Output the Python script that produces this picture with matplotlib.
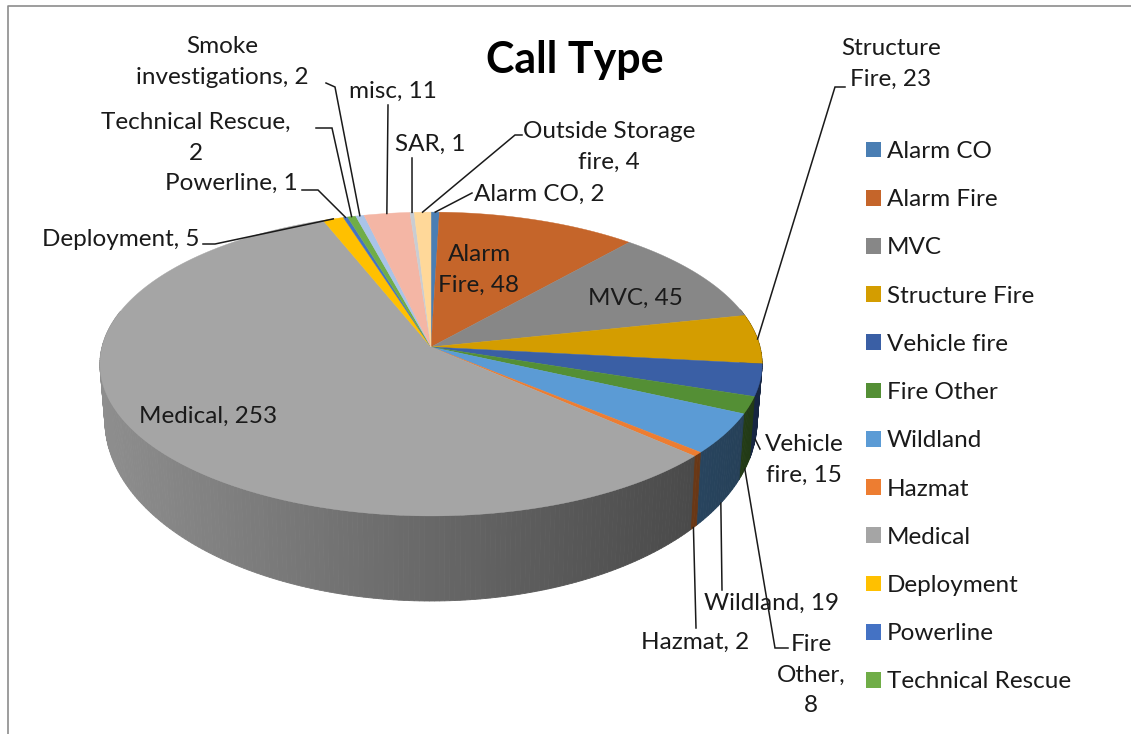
import numpy as np
import matplotlib
matplotlib.use("Agg")
import matplotlib.pyplot as plt
from matplotlib.patches import Patch

plt.rcParams['font.family'] = ['Lato', 'DejaVu Sans']

categories = ["Alarm CO", "Alarm Fire", "MVC", "Structure Fire", "Vehicle fire", "Fire Other",
              "Wildland", "Hazmat", "Medical", "Deployment", "Powerline", "Technical Rescue",
              "Smoke investigations", "misc", "SAR", "Outside Storage fire"]
values = [2, 48, 45, 23, 15, 8, 19, 2, 253, 5, 1, 2, 2, 11, 1, 4]
colors = ["#4A7EB3", "#C5652A", "#878787", "#D49D00", "#3A5FA5", "#548F35", "#5B9BD5", "#ED7D31",
          "#A5A5A5", "#FFC000", "#4472C4", "#70AD47", "#A9C4E8", "#F4B6A5", "#C9CDD3", "#FFD899"]
label_text = ["Alarm CO, 2", "Alarm\nFire, 48", "MVC, 45", "Structure\nFire, 23", "Vehicle\nfire, 15",
              "Fire\nOther,\n8", "Wildland, 19", "Hazmat, 2", "Medical, 253", "Deployment, 5",
              "Powerline, 1", "Technical Rescue,\n2", "Smoke\ninvestigations, 2", "misc, 11", "SAR, 1",
              "Outside Storage\nfire, 4"]
label_pos = [(539, 194), (479, 270), (635, 298), (891, 64), (804, 460), (811, 675), (771, 603), (695, 642),
             (208, 416), (121, 239), (231, 183), (196, 138), (222, 62), (393, 91), (430, 144), (609, 147)]
# leader routes after the slice anchor; None means no leader
leader_via = [[(472, 193)], None, None, [(835, 87), (845, 87)], [(760, 449)], [(775, 648), (788, 648)],
              [(722, 590)], [(696, 628)], None, [(215, 244), (203, 244)], [(318, 190), (302, 190)],
              [(332, 128), (316, 128)], [(335, 87), (326, 83)], [(388, 105)], [(412, 158)], [(515, 135), (522, 135)]]
leader_bottom = [False, False, False, False, True, True, True, True, False, False, False, False, False, False, False, False]

CX, CY = 431, 347
R, A, K = 329, 150, 0.112


def project(theta):
    x, y = np.sin(theta), np.cos(theta)
    w = 1 + K * y
    return R * x / w, A * y / w


def top_xy(theta):
    sx, sy = project(theta)
    return CX + sx, CY - sy


def bottom_xy(theta):
    sx, sy = project(theta)
    depth = 53 - 0.19 * sy
    return CX + 0.985 * sx, CY - sy + depth


def shade(hex_color, f):
    rgb = np.array(matplotlib.colors.to_rgb(hex_color))
    return tuple(np.clip(rgb * f, 0, 1))


fig = plt.figure(figsize=(11.31, 7.34), dpi=100)
ax = fig.add_axes([0, 0, 1, 1])
ax.set_xlim(0, 1131)
ax.set_ylim(734, 0)
ax.axis("off")

# frame
ax.plot([8, 8, 1131], [734, 6, 6], color="#8c8c8c", lw=1.2, zorder=1)

edges = np.cumsum([0] + values) / sum(values) * 2 * np.pi

# side walls
for i, col in enumerate(colors):
    ts = np.arange(edges[i], edges[i + 1], np.radians(0.8))
    ts = np.append(ts, edges[i + 1])
    for a, b in zip(ts[:-1], ts[1:]):
        if np.cos((a + b) / 2) > 0.25:
            continue
        xa, ya = top_xy(a)
        xb, yb = top_xy(b)
        xc, yc = bottom_xy(b)
        xd, yd = bottom_xy(a)
        f = np.interp((xa + xb) / 2, [100, 762], [0.86, 0.40])
        c = shade(col, f)
        ax.fill([xa, xb, xc, xd], [ya, yb, yc, yd], facecolor=c, edgecolor=c, lw=0.6, zorder=2)

# top faces
for i, col in enumerate(colors):
    ts = np.linspace(edges[i], edges[i + 1], max(3, int((edges[i + 1] - edges[i]) * 120)))
    xs, ys = top_xy(ts)
    ax.fill(np.r_[CX, xs], np.r_[CY, ys], facecolor=col, edgecolor=col, lw=0.3, zorder=3)

fs = 17.5
# leaders and labels
for i, txt in enumerate(label_text):
    if leader_via[i] is not None:
        mid = (edges[i] + edges[i + 1]) / 2
        start = bottom_xy(mid) if leader_bottom[i] else top_xy(mid)
        pts = [start] + leader_via[i]
        ax.plot([p[0] for p in pts], [p[1] for p in pts], color="#1a1a1a", lw=1.1, zorder=4,
                solid_joinstyle="miter")
    ax.text(label_pos[i][0], label_pos[i][1], txt, ha="center", va="center", fontsize=fs,
            color="#1a1a1a", linespacing=1.58, zorder=5)

ax.text(575, 60, "Call Type", ha="center", va="center", fontsize=31, fontweight="bold", color="black", zorder=5)

handles = [Patch(facecolor=c, edgecolor="none") for c in colors[:12]]
px = fs * 100 / 72
leg = ax.legend(handles, categories[:12], loc="upper left", bbox_to_anchor=(866 / 1131, 1 - 141 / 734),
                bbox_transform=fig.transFigure, frameon=False, fontsize=fs, handlelength=15 / px,
                handleheight=15 / px, handletextpad=6 / px, labelspacing=1.12, borderpad=0, borderaxespad=0,
                labelcolor="#1a1a1a")

fig.savefig("out.png", dpi=100)
